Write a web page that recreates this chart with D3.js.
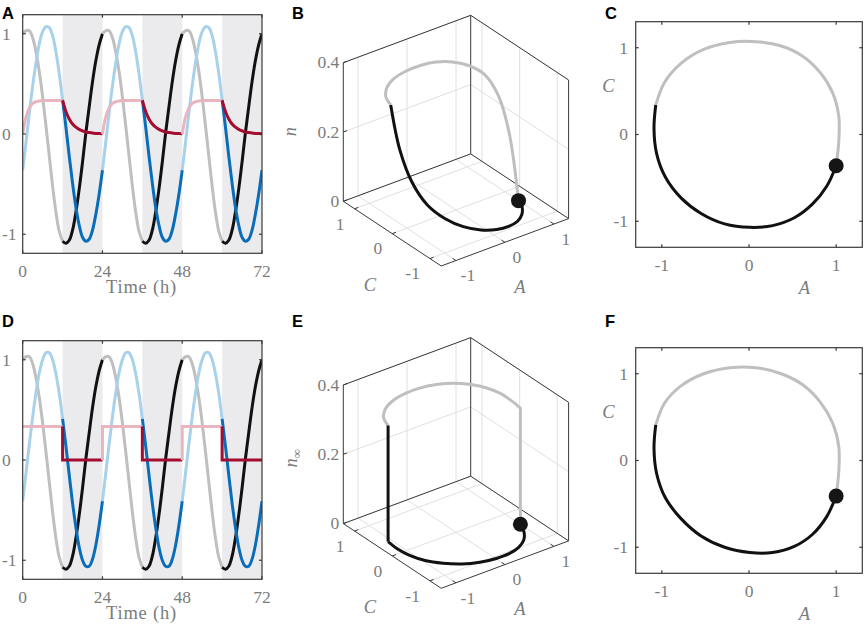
<!DOCTYPE html>
<html>
  <head>
    <meta charset="utf-8" />
    <script src="https://d3js.org/d3.v7.min.js"></script>
    <style>
      body { margin: 0; background: #ffffff; }
      text { font-family: "Liberation Serif", serif; fill: #7c7c7c; font-size: 17.5px; }
      .letter { font-family: "Liberation Sans", Arial, sans-serif; font-weight: bold; fill: #000000; font-size: 16.5px; }
      .axlabel { font-style: italic; font-size: 18.5px; }
      .xlabel { font-size: 18.5px; letter-spacing: 0.8px; }
      .frame { stroke: #3a3a3a; stroke-width: 1.2; fill: none; }
      .edge { stroke: #3a3a3a; stroke-width: 1; fill: none; }
      .grid { stroke: #e0e0e0; stroke-width: 1; fill: none; }
      .curve { fill: none; stroke-width: 3; }
    </style>
  </head>
  <body>
    <svg id="fig" width="865" height="625"></svg>
    <script type="text/javascript">

      // hour of the day for every sample below
      var hours = [0, 1, 2, 3, 4, 5, 6, 7, 8, 9, 10, 11, 12,
                   13, 14, 15, 16, 17, 18, 19, 20, 21, 22, 23, 24];
      var days = [0, 24, 48];
      var timeTicks = [0, 24, 48, 72];
      var unitTicks = [-1, 0, 1];
      var nTicks = [0, 0.2, 0.4];

      // A over one day (same in both rows)
      var aDay = [1.00, 1.03, 1.03, 0.96, 0.82, 0.62, 0.37, 0.08, -0.22, -0.52, -0.78, -0.97, -1.07,
                  -1.09, -1.06, -0.96, -0.78, -0.55, -0.28, 0.01, 0.27, 0.52, 0.73, 0.89, 1.00];
      // C over one day, top row (n dynamic) and bottom row (n = n_inf)
      var cTop = [-0.36, -0.08, 0.21, 0.48, 0.71, 0.90, 1.02, 1.07, 1.06, 0.98, 0.82, 0.60, 0.34,
                  0.07, -0.22, -0.49, -0.73, -0.91, -1.03, -1.07, -1.05, -0.96, -0.80, -0.60, -0.36];
      var cBottom = [-0.41, -0.13, 0.16, 0.43, 0.67, 0.87, 1.00, 1.07, 1.07, 1.00, 0.86, 0.66, 0.41,
                     0.14, -0.15, -0.43, -0.67, -0.87, -1.00, -1.06, -1.06, -0.99, -0.85, -0.65, -0.41];
      // n over one day
      var nTop = [0, 0.17, 0.26, 0.305, 0.322, 0.33, 0.334, 0.335, 0.335, 0.335, 0.335, 0.335, 0.335,
                  0.225, 0.15, 0.10, 0.068, 0.046, 0.031, 0.02, 0.014, 0.009, 0.006, 0.004, 0.003];
      // n_inf, value held over each hour [h, h+1)
      var nInf = [0.335, 0.335, 0.335, 0.335, 0.335, 0.335, 0.335, 0.335, 0.335, 0.335, 0.335, 0.335,
                  0, 0, 0, 0, 0, 0, 0, 0, 0, 0, 0, 0];

      var col = {
        aLight: "#bfbfbf", aDark: "#111111",
        cLight: "#a8d1ec", cDark: "#0a6db8",
        nLight: "#e9b6bf", nDark: "#a50d30",
        night: "#ebebed"
      };

      var svg = d3.select("#fig");
      var smooth = d3.curveCatmullRom.alpha(0.5);

      // points of one light (0-12) or dark (12-24) stretch
      function stretch(vals, h0, h1, step, first) {
        var pts = [];
        if (step) {
          if (!first) pts.push({ h: h0, v: vals[(h0 + 23) % 24] });
          for (var h = h0; h <= h1; h++) pts.push({ h: h, v: vals[Math.min(h, h1 - 1)] });
        } else {
          for (var k = h0; k <= h1; k++) pts.push({ h: hours[k], v: vals[k] });
        }
        return pts;
      }

      function letter(x, y, s) {
        svg.append("text").attr("class", "letter").attr("x", x).attr("y", y).text(s);
      }

      // ---------- time series (A, D) ----------
      function seriesPanel(dy, cDay, nDay, step, clipId) {
        var g = svg.append("g").attr("transform", "translate(0," + dy + ")");
        var x = d3.scaleLinear().domain([0, 72]).range([22.7, 262]);
        var y = d3.scaleLinear().domain([-1.19, 1.19]).range([253.3, 14.7]);

        g.append("clipPath").attr("id", clipId).append("rect")
          .attr("x", x(0)).attr("y", y(1.19)).attr("width", x(72) - x(0)).attr("height", y(-1.19) - y(1.19));

        g.selectAll("rect.night").data(days).enter().append("rect").attr("class", "night")
          .attr("x", function(d) { return x(d + 12); })
          .attr("width", function(d) { return x(d + 24) - x(d + 12); })
          .attr("y", y(1.19)).attr("height", y(-1.19) - y(1.19))
          .attr("fill", col.night);

        var plot = g.append("g").attr("clip-path", "url(#" + clipId + ")");
        var series = [
          { vals: aDay, light: col.aLight, dark: col.aDark, step: false },
          { vals: cDay, light: col.cLight, dark: col.cDark, step: false },
          { vals: nDay, light: col.nLight, dark: col.nDark, step: step }
        ];
        series.forEach(function(s) {
          days.forEach(function(d, i) {
            [[0, 12, s.light], [12, 24, s.dark]].forEach(function(seg) {
              var pts = stretch(s.vals, seg[0], seg[1], s.step, i === 0 && seg[0] === 0);
              var line = d3.line()
                .x(function(p) { return x(d + p.h); })
                .y(function(p) { return y(p.v); })
                .curve(s.step ? d3.curveStepAfter : smooth);
              plot.append("path").attr("class", "curve").attr("stroke", seg[2]).attr("d", line(pts));
            });
          });
        });

        // frame and inner ticks
        g.append("rect").attr("class", "frame")
          .attr("x", x(0)).attr("y", y(1.19)).attr("width", x(72) - x(0)).attr("height", y(-1.19) - y(1.19));
        timeTicks.forEach(function(t) {
          g.append("line").attr("class", "frame").attr("x1", x(t)).attr("x2", x(t)).attr("y1", y(-1.19)).attr("y2", y(-1.19) - 3);
          g.append("line").attr("class", "frame").attr("x1", x(t)).attr("x2", x(t)).attr("y1", y(1.19)).attr("y2", y(1.19) + 3);
          g.append("text").attr("x", x(t)).attr("y", 276.5).attr("text-anchor", "middle").text(t);
        });
        unitTicks.forEach(function(t) {
          g.append("line").attr("class", "frame").attr("x1", x(0)).attr("x2", x(0) + 3).attr("y1", y(t)).attr("y2", y(t));
          g.append("line").attr("class", "frame").attr("x1", x(72)).attr("x2", x(72) - 3).attr("y1", y(t)).attr("y2", y(t));
          g.append("text").attr("x", 2).attr("y", y(t)).attr("dy", "0.33em").text(t);
        });
        g.append("text").attr("class", "xlabel").attr("x", 141.5).attr("y", 292.5).attr("text-anchor", "middle").text("Time (h)");
      }

      // ---------- 3D phase portraits (B, E) ----------
      function cubePanel(dy, cDay, nDay, step, sub) {
        var g = svg.append("g").attr("transform", "translate(0," + dy + ")");
        var fa = d3.scaleLinear().domain([-1.3, 1.3]).range([0, 1]);
        var fc = d3.scaleLinear().domain([-1.3, 1.3]).range([0, 1]);
        var fn = d3.scaleLinear().domain([0, 0.4]).range([0, 1]);
        var O = [441.2, 266], AV = [127.4, -47.4], CV = [-97.9, -64.7], NV = [0, -138.6];
        function P(a, c, n) {
          var u = fa(a), v = fc(c), w = fn(n);
          return [O[0] + u * AV[0] + v * CV[0] + w * NV[0], O[1] + u * AV[1] + v * CV[1] + w * NV[1]];
        }
        function seg(cls, p, q) {
          g.append("line").attr("class", cls).attr("x1", p[0]).attr("y1", p[1]).attr("x2", q[0]).attr("y2", q[1]);
        }
        var lo = -1.3, hi = 1.3, top = 0.4;

        unitTicks.forEach(function(t) {
          seg("grid", P(t, lo, 0), P(t, hi, 0));
          seg("grid", P(lo, t, 0), P(hi, t, 0));
          seg("grid", P(t, hi, 0), P(t, hi, top));
          seg("grid", P(hi, t, 0), P(hi, t, top));
        });
        nTicks.forEach(function(t) {
          seg("grid", P(lo, hi, t), P(hi, hi, t));
          seg("grid", P(hi, lo, t), P(hi, hi, t));
        });

        seg("edge", P(lo, lo, 0), P(lo, hi, 0));
        seg("edge", P(lo, lo, 0), P(hi, lo, 0));
        seg("edge", P(lo, hi, 0), P(hi, hi, 0));
        seg("edge", P(hi, lo, 0), P(hi, hi, 0));
        seg("edge", P(lo, hi, 0), P(lo, hi, top));
        seg("edge", P(hi, hi, 0), P(hi, hi, top));
        seg("edge", P(hi, lo, 0), P(hi, lo, top));
        seg("edge", P(lo, hi, top), P(hi, hi, top));
        seg("edge", P(hi, lo, top), P(hi, hi, top));

        var ua = Math.hypot(AV[0], AV[1]), uc = Math.hypot(CV[0], CV[1]);
        nTicks.forEach(function(t) {
          var p = P(lo, hi, t);
          seg("edge", p, [p[0] + 4 * AV[0] / ua, p[1] + 4 * AV[1] / ua]);
          g.append("text").attr("x", p[0] - 4).attr("y", p[1]).attr("dy", "0.33em")
            .attr("text-anchor", "end").text(t === 0 ? "0" : t.toFixed(1));
        });
        unitTicks.forEach(function(t) {
          var p = P(lo, t, 0);
          seg("edge", p, [p[0] + 4 * AV[0] / ua, p[1] + 4 * AV[1] / ua]);
          g.append("text").attr("x", p[0] - 10).attr("y", p[1] + 15).attr("dy", "0.33em")
            .attr("text-anchor", "end").text(t);
          var q = P(t, lo, 0);
          seg("edge", q, [q[0] + 4 * CV[0] / uc, q[1] + 4 * CV[1] / uc]);
          g.append("text").attr("x", q[0] + 12).attr("y", q[1] + 15).attr("dy", "0.33em")
            .attr("text-anchor", "middle").text(t);
        });

        g.append("text").attr("class", "axlabel").attr("x", 370).attr("y", 291).attr("text-anchor", "middle").text("C");
        g.append("text").attr("class", "axlabel").attr("x", 520).attr("y", 293).attr("text-anchor", "middle").text("A");
        var nl = g.append("text").attr("class", "axlabel")
          .attr("transform", "translate(" + (sub ? 297 : 296) + "," + (sub ? 136 : 131.7) + ") rotate(-90)")
          .attr("text-anchor", "middle").text("n");
        if (sub) nl.append("tspan").attr("dy", 4).attr("font-size", "13px").attr("font-style", "normal").text("\u221e");

        var line3 = d3.line().x(function(p) { return p[0]; }).y(function(p) { return p[1]; }).curve(smooth);
        [[0, 12, col.aLight, "round"], [12, 24, col.aDark, "butt"]].forEach(function(s) {
          var pts;
          if (step) {
            // n_inf jumps at the switch: straight vertical, then the held level
            var hold = nDay[s[0]];
            var jump = [P(aDay[s[0]], cDay[s[0]], nDay[(s[0] + 23) % 24]), P(aDay[s[0]], cDay[s[0]], hold)];
            g.append("path").attr("class", "curve").attr("stroke", s[2]).attr("stroke-linecap", s[3])
              .attr("d", d3.line()(jump));
            pts = d3.range(s[0], s[1] + 1).map(function(h) { return P(aDay[h], cDay[h], hold); });
          } else {
            pts = d3.range(s[0], s[1] + 1).map(function(h) { return P(aDay[h], cDay[h], nDay[h]); });
          }
          g.append("path").attr("class", "curve").attr("stroke", s[2]).attr("d", line3(pts));
        });
        var m = P(aDay[0], cDay[0], 0);
        g.append("circle").attr("cx", m[0]).attr("cy", m[1]).attr("r", 7.5).attr("fill", "#151515");
      }

      // ---------- 2D phase portraits (C, F) ----------
      function loopPanel(dy, cDay) {
        var g = svg.append("g").attr("transform", "translate(0," + dy + ")");
        var x = d3.scaleLinear().domain([-1.3, 1.3]).range([635.7, 862.3]);
        var y = d3.scaleLinear().domain([-1.3, 1.3]).range([247.3, 21.7]);
        var line = d3.line()
          .x(function(h) { return x(aDay[h]); })
          .y(function(h) { return y(cDay[h]); })
          .curve(smooth);
        g.append("path").attr("class", "curve").attr("stroke", col.aLight).attr("d", line(d3.range(0, 13)));
        g.append("path").attr("class", "curve").attr("stroke", col.aDark).attr("d", line(d3.range(12, 25)));
        g.append("circle").attr("cx", x(aDay[0])).attr("cy", y(cDay[0])).attr("r", 7.5).attr("fill", "#151515");

        g.append("rect").attr("class", "frame")
          .attr("x", x(-1.3)).attr("y", y(1.3)).attr("width", x(1.3) - x(-1.3)).attr("height", y(-1.3) - y(1.3));
        unitTicks.forEach(function(t) {
          g.append("line").attr("class", "frame").attr("x1", x(t)).attr("x2", x(t)).attr("y1", y(-1.3)).attr("y2", y(-1.3) - 3);
          g.append("line").attr("class", "frame").attr("x1", x(t)).attr("x2", x(t)).attr("y1", y(1.3)).attr("y2", y(1.3) + 3);
          g.append("line").attr("class", "frame").attr("x1", x(-1.3)).attr("x2", x(-1.3) + 3).attr("y1", y(t)).attr("y2", y(t));
          g.append("line").attr("class", "frame").attr("x1", x(1.3)).attr("x2", x(1.3) - 3).attr("y1", y(t)).attr("y2", y(t));
          g.append("text").attr("x", x(t)).attr("y", 271).attr("text-anchor", "middle").text(t);
          g.append("text").attr("x", 628).attr("y", y(t)).attr("dy", "0.33em").attr("text-anchor", "end").text(t);
        });
        g.append("text").attr("class", "axlabel").attr("x", 804.5).attr("y", 293.5).attr("text-anchor", "middle").text("A");
        g.append("text").attr("class", "axlabel").attr("x", 608.5).attr("y", 91.5).attr("text-anchor", "middle").text("C");
      }

      seriesPanel(0, cTop, nTop, false, "clipA");
      seriesPanel(326, cBottom, nInf, true, "clipD");
      cubePanel(0, cTop, nTop, false, false);
      cubePanel(322.3, cBottom, nInf, true, true);
      loopPanel(0, cTop);
      loopPanel(326, cBottom);

      letter(2, 18.5, "A");
      letter(292, 18.5, "B");
      letter(605, 18.5, "C");
      letter(2, 327, "D");
      letter(292, 327, "E");
      letter(605, 327, "F");

    </script>
  </body>
</html>
